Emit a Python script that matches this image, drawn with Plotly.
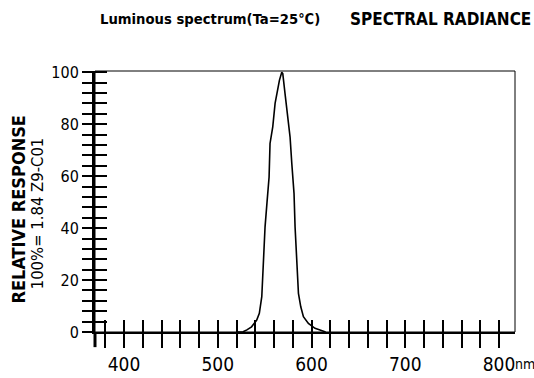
import plotly.graph_objects as go

# ---- data ----
wavelength = [520, 527, 531, 536, 541.5, 544.3, 546.9, 547.9, 550.4, 552.5, 554.7, 555.7,
              558.6, 561.1, 562.9, 565.7, 568.2, 569.3, 571.7, 573.5, 577.1, 578.9, 581.3,
              582.4, 584.2, 586, 588.5, 591.3, 596.6, 603.7, 609, 615]
response = [0, 0.1, 0.8, 2, 4.6, 7.2, 13.6, 21.3, 40.5, 50, 59.7, 72.6,
            79, 88, 91.8, 96.9, 100, 99.5, 91.8, 85.4, 75, 65, 53.3,
            40.5, 27.7, 14.9, 9.7, 5.9, 3.3, 1.4, 0.8, 0]

x_ticks = list(range(380, 801, 20))
x_labels = {400: "400", 500: "500", 600: "600", 700: "700", 800: "800"}
y_ticks = list(range(0, 101, 4))
y_labels = {0: "0", 20: "20", 40: "40", 60: "60", 80: "80", 100: "100"}

title_left = "Luminous spectrum(Ta=25℃)"
title_right = "SPECTRAL RADIANCE"
ytitle_1 = "RELATIVE RESPONSE"
ytitle_2 = "100%= 1.84 Z9-C01"
x_unit = "nm"

x_range = [369, 817]
y_range = [0, 100.5]

FONT = "Liberation Sans Narrow, DejaVu Sans Condensed, Arial Narrow, sans-serif"

fig = go.Figure()
fig.add_trace(go.Scatter(x=wavelength, y=response, mode="lines",
                         line=dict(color="black", width=1.6), showlegend=False,
                         hoverinfo="skip"))
# invisible trace so that the overlay axes (other half of crossing ticks) are drawn
fig.add_trace(go.Scatter(x=wavelength, y=response, mode="lines", xaxis="x2", yaxis="y2",
                         line=dict(color="rgba(0,0,0,0)", width=0), showlegend=False,
                         hoverinfo="skip"))

fig.update_layout(
    width=534, height=378,
    margin=dict(l=95, r=19, t=71, b=46, autoexpand=False),
    paper_bgcolor="white", plot_bgcolor="white",
    font=dict(family=FONT, color="black"),
    xaxis=dict(range=x_range, tickmode="array", tickvals=x_ticks,
               ticktext=[x_labels.get(v, "") for v in x_ticks],
               ticks="inside", ticklen=12, tickwidth=1.5, tickcolor="black",
               showline=True, linewidth=1.5, linecolor="black",
               showgrid=False, zeroline=False, ticklabelstandoff=14,
               tickfont=dict(size=19, family=FONT, color="black")),
    xaxis2=dict(range=x_range, overlaying="x", side="bottom", tickmode="array",
                tickvals=x_ticks, showticklabels=False,
                ticks="outside", ticklen=15, tickwidth=1.5, tickcolor="black",
                showline=False, showgrid=False, zeroline=False),
    yaxis=dict(range=y_range, tickmode="array", tickvals=y_ticks,
               ticktext=[y_labels.get(v, "") for v in y_ticks],
               ticks="outside", ticklen=10, tickwidth=2, tickcolor="black",
               showline=True, linewidth=3, linecolor="black",
               showgrid=False, zeroline=False,
               tickfont=dict(size=16, family=FONT, color="black")),
    yaxis2=dict(range=y_range, overlaying="y", side="left", tickmode="array",
                tickvals=y_ticks, showticklabels=False,
                ticks="inside", ticklen=12, tickwidth=2, tickcolor="black",
                showline=False, showgrid=False, zeroline=False),
)

# thin frame on top and right
fig.add_shape(type="rect", xref="paper", yref="paper", x0=0, x1=1, y0=0, y1=1,
              line=dict(color="black", width=1), layer="below")
# left axis line continues below the x axis
fig.add_shape(type="line", xref="paper", yref="paper", x0=0, x1=0, y0=0, y1=-0.058,
              line=dict(color="black", width=3))

# titles
fig.add_annotation(text=title_left, xref="paper", yref="paper", x=0.007, y=1.2,
                   xanchor="left", yanchor="middle", showarrow=False,
                   font=dict(size=14.7, family=FONT, color="black", weight="bold"))
fig.add_annotation(text=title_right, xref="paper", yref="paper", x=0.602, y=1.2,
                   xanchor="left", yanchor="middle", showarrow=False,
                   font=dict(size=17, family=FONT, color="black", weight="bold"))
fig.add_annotation(text=ytitle_1, xref="paper", yref="paper", x=-0.183, y=0.47,
                   textangle=-90, xanchor="center", yanchor="middle", showarrow=False,
                   font=dict(size=18, family=FONT, color="black", weight="bold"))
fig.add_annotation(text=ytitle_2, xref="paper", yref="paper", x=-0.138, y=0.455,
                   textangle=-90, xanchor="center", yanchor="middle", showarrow=False,
                   font=dict(size=16.5, family=FONT, color="black"))
fig.add_annotation(text=x_unit, xref="paper", yref="paper", x=0.9964, y=-0.1245,
                   xanchor="left", yanchor="middle", showarrow=False,
                   font=dict(size=14, family=FONT, color="black"))

fig.write_html("out.html", config={"displayModeBar": False},
               post_script="document.body.style.margin='0px';")
